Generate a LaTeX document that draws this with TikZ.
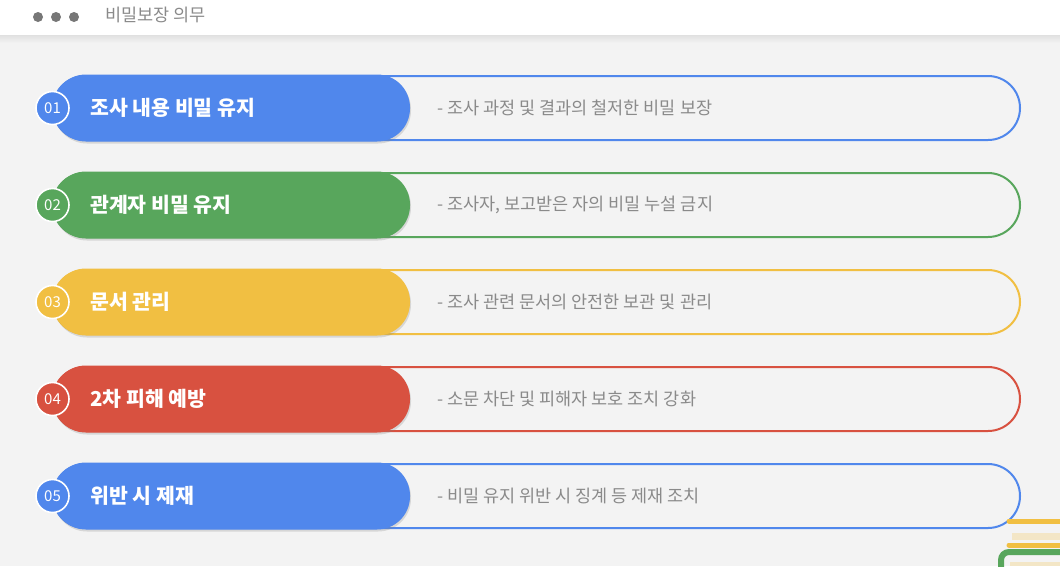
\documentclass[tikz,border=0pt]{standalone}
\usepackage{fontspec}
\newfontfamily\kr{Noto Sans CJK KR}
\usetikzlibrary{shadows,positioning}
\definecolor{bgray}{HTML}{F3F3F3}
\definecolor{cblue}{HTML}{5087EC}
\definecolor{cgreen}{HTML}{58A65C}
\definecolor{cyellow}{HTML}{F1BF42}
\definecolor{cred}{HTML}{D85140}
\definecolor{cbeige}{HTML}{F3E6C6}
\definecolor{dgray}{HTML}{777777}
\definecolor{tgray}{HTML}{8A8A8A}

\begin{document}
\begin{tikzpicture}[x=1pt,y=-1pt,
  outer/.style={draw=#1, line width=2pt, rounded corners=32pt, minimum width=967pt, minimum height=64pt, fill=bgray},
  tag/.style={fill=#1, rounded corners=33pt, minimum width=357pt, minimum height=67pt,
    drop shadow={opacity=0.25, shadow xshift=1pt, shadow yshift=-2pt}},
  num/.style={circle, fill=#1, draw=white, line width=1.6pt, minimum size=33pt, inner sep=0pt,
    text=white, font=\kr\fontsize{15}{17}\selectfont},
  lab/.style={text=white, inner sep=0pt, font=\kr\bfseries\fontsize{20.5}{24}\selectfont},
  desc/.style={text=tgray, inner sep=0pt, font=\kr\fontsize{17.5}{20}\selectfont}]
  \useasboundingbox (0,0) rectangle (1060,566);
  \fill[bgray] (0,0) rectangle (1060,566);
  % header bar
  \shade[top color=black!12, bottom color=bgray] (0,35) rectangle (1060,43);
  \fill[white] (0,0) rectangle (1060,35);
  \foreach \k in {1,2,3}
    \fill[dgray] (20+18*\k,17) circle (5);
  \node[anchor=west, inner sep=0pt, text=tgray, font=\kr\fontsize{17.5}{20}\selectfont] (title) at (105,15) {비밀보장 의무};
  % rows
  \foreach \i/\col/\lab/\desc in {
      1/cblue/조사 내용 비밀 유지/- 조사 과정 및 결과의 철저한 비밀 보장,
      2/cgreen/관계자 비밀 유지/- 조사자{,} 보고받은 자의 비밀 누설 금지,
      3/cyellow/문서 관리/- 조사 관련 문서의 안전한 보관 및 관리,
      4/cred/2차 피해 예방/- 소문 차단 및 피해자 보호 조치 강화,
      5/cblue/위반 시 제재/- 비밀 유지 위반 시 징계 등 제재 조치}{
    \pgfmathsetmacro\yy{108+97*(\i-1)}
    \node[outer=\col] (out\i) at (536.5,\yy) {};
    \node[tag=\col] (tag\i) at (231.5,\yy) {};
    \node[num=\col] (num\i) at (52.5,\yy) {0\i};
    \node[lab, anchor=west] (lab\i) at (90,\yy) {\lab};
    \node[desc, anchor=west] (desc\i) at (437,\yy) {\desc};
  }
  % corner stack
  \draw[cyellow, line width=5pt, line cap=round] (1009,521) -- (1070,521);
  \fill[cbeige] (1012,533) rectangle (1060,540);
  \draw[cyellow, line width=5pt, line cap=round] (1009,545) -- (1070,545);
  \draw[cgreen, line width=6pt, rounded corners=8pt] (1001,580) -- (1001,552) -- (1070,552);
  \fill[cbeige] (1010,562) rectangle (1060,566);
\end{tikzpicture}
\end{document}
